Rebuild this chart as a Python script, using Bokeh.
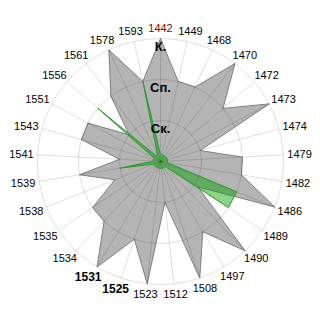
import math
from bokeh.plotting import figure
from bokeh.models import Range1d
from bokeh.embed import file_html
from bokeh.resources import INLINE
from bokeh.core.properties import value

categories = ["1442", "1449", "1468", "1470", "1472", "1473", "1474", "1479", "1482", "1486",
              "1489", "1490", "1497", "1508", "1512", "1523", "1525", "1531", "1534", "1535",
              "1538", "1539", "1541", "1543", "1551", "1556", "1561", "1578", "1593"]
grey_values = [3, 2, 2, 3, 2, 3, 1, 2, 2, 3,
               1.1, 3, 2, 3, 1, 3, 2, 3, 2, 2,
               1.2, 2, 1, 2, 2, 1, 2, 3, 2]
green_values = [0.17, 0.17, 0.17, 0.17, 0.17, 0.17, 0.17, 0.17, 0.17, 2,
                2, 0.17, 0.17, 0.17, 0.17, 0.17, 0.17, 0.17, 0.17, 0.17,
                0.17, 1, 0.17, 0.17, 0.17, 2, 0.17, 0.17, 2]
ring_levels = [1, 2, 3]
ring_labels = ["Ск.", "Сп.", "К."]
red_labels = ["1442"]
bold_labels = ["1525", "1531"]

K = 41.0  # pixels per unit
N = len(categories)
angles = [2 * math.pi * i / N for i in range(N)]

def to_xy(vals):
    xs = [v * K * math.sin(a) for v, a in zip(vals, angles)]
    ys = [v * K * math.cos(a) for v, a in zip(vals, angles)]
    return xs, ys

p = figure(width=320, height=320, output_backend="svg", toolbar_location=None,
           x_range=Range1d(-160, 160), y_range=Range1d(-159, 161),
           min_border=0)
p.axis.visible = False
p.grid.visible = False
p.outline_line_color = None
p.background_fill_color = "white"
p.border_fill_color = "white"

# grey series
gx, gy = to_xy(grey_values)
p.patch(gx, gy, fill_color="#b4b4b4", line_color="#808080", line_width=1)

# grid
rmax = max(ring_levels) * K
p.segment(x0=[0] * N, y0=[0] * N,
          x1=[rmax * math.sin(a) for a in angles],
          y1=[rmax * math.cos(a) for a in angles],
          line_color="black", line_alpha=0.13, line_width=1)
p.circle(x=[0] * len(ring_levels), y=[0] * len(ring_levels),
         radius=[lv * K for lv in ring_levels], fill_color=None,
         line_color="black", line_alpha=0.13, line_width=1)

# green series
hx, hy = to_xy(green_values)
p.patch(hx, hy, fill_color="#00a000", fill_alpha=0.45, line_color="#2e9a2e", line_width=1)

# ring labels
p.text(x=[0] * len(ring_levels), y=[lv * K for lv in ring_levels], text=ring_labels,
       text_font=value("Liberation Sans"), text_font_style="bold", text_font_size="13px",
       text_color="black", text_align="center", text_baseline="top")

# category labels
R = 127.0
groups = {"normal": ([], [], []), "bold": ([], [], []), "red": ([], [], [])}
for c, a in zip(categories, angles):
    if c in bold_labels:
        key, w, h = "bold", 4 * 0.556 * 12, 14
    elif c in red_labels:
        key, w, h = "red", 4 * 0.556 * 11, 13
    else:
        key, w, h = "normal", 4 * 0.556 * 11, 13
    s, co = math.sin(a), math.cos(a)
    groups[key][0].append(R * s + w / 2 * s)
    groups[key][1].append(R * co + h / 2 * co)
    groups[key][2].append(c)

styles = {"normal": ("black", "normal", "11px"),
          "bold": ("black", "bold", "12px"),
          "red": ("#8b0000", "normal", "11px")}
for key, (xs, ys, ts) in groups.items():
    col, sty, size = styles[key]
    p.text(x=xs, y=ys, text=ts, text_font=value("Liberation Sans"),
           text_font_style=sty, text_font_size=size, text_color=col,
           text_align="center", text_baseline="middle")

open("out.html", "w").write(file_html(p, INLINE))
